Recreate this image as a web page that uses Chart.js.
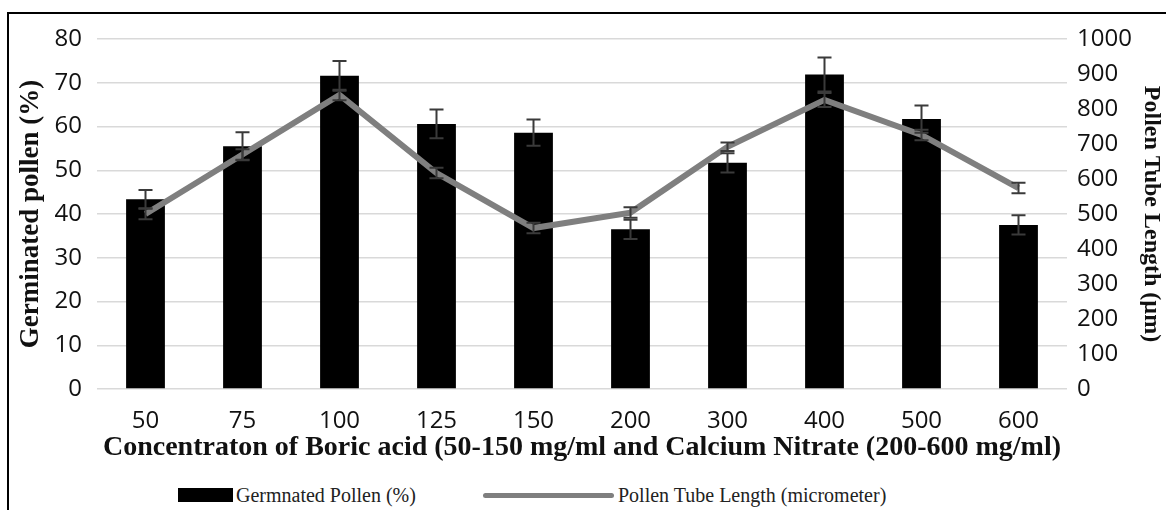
<!DOCTYPE html>
<html>
<head>
<meta charset="utf-8">
<script src="https://cdn.jsdelivr.net/npm/chart.js@4.4.1/dist/chart.umd.min.js"></script>
<style>
  html, body { margin: 0; padding: 0; background: #fff; }
  #wrap { position: relative; width: 1166px; height: 510px; overflow: hidden; }
  #frame { position: absolute; left: 7px; top: 12px; width: 1200px; height: 600px;
           border-left: 2px solid #000; border-top: 2px solid #000; }
  #chart { position: absolute; left: 0; top: 0; }
  .leg { position: absolute; top: 483px; height: 24px; display: flex; align-items: center;
         font-family: "Liberation Serif", serif; font-size: 20px; color: #222; white-space: nowrap; }
  .sw-bar { width: 55px; height: 14px; background: #000; margin-right: 3px; }
  .sw-line { width: 131px; height: 5px; background: #7f7f7f; border-radius: 3px; margin-right: 4px; }
</style>
</head>
<body>
<div id="wrap">
  <div id="frame"></div>
  <canvas id="chart" width="1166" height="470"></canvas>
  <div class="leg" style="left:178px"><span class="sw-bar"></span>Germnated Pollen (%)</div>
  <div class="leg" style="left:483px"><span class="sw-line"></span>Pollen Tube Length (micrometer)</div>
</div>
<script>
const concentrations = ["50", "75", "100", "125", "150", "200", "300", "400", "500", "600"];
const germinated = [43.4, 55.5, 71.6, 60.6, 58.6, 36.5, 51.7, 71.9, 61.7, 37.5];
const germinatedErr = [2.1, 3.2, 3.4, 3.3, 3.0, 2.2, 2.2, 3.9, 3.1, 2.2];
const tubeLength = [500, 670, 840, 617, 460, 504, 692, 826, 726, 574];
const tubeLengthErr = [15, 15, 15, 15, 15, 15, 12, 20, 15, 15];
const leftTicks = [0, 10, 20, 30, 40, 50, 60, 70, 80];
const rightTicks = [0, 100, 200, 300, 400, 500, 600, 700, 800, 900, 1000];

const tickFont = { family: "'Open Sans', sans-serif", size: 24 };
const titleFamily = "'Liberation Serif', serif";

// draws the error bars on top of each dataset using its own y scale
const errorBars = {
    id: "errorBars",
    afterDatasetsDraw(chart) {
        const ctx = chart.ctx;
        const sets = [
            { index: 0, errs: germinatedErr, color: "#3a3a3a" },
            { index: 1, errs: tubeLengthErr, color: "#3a3a3a" }
        ];
        sets.forEach(s => {
            const meta = chart.getDatasetMeta(s.index);
            const scale = chart.scales[meta.yAxisID];
            const values = chart.data.datasets[s.index].data;
            ctx.save();
            ctx.strokeStyle = s.color;
            ctx.lineWidth = 2;
            meta.data.forEach((el, i) => {
                const x = el.x;
                const yTop = scale.getPixelForValue(values[i] + s.errs[i]);
                const yBot = scale.getPixelForValue(values[i] - s.errs[i]);
                ctx.beginPath();
                ctx.moveTo(x, yTop); ctx.lineTo(x, yBot);
                ctx.moveTo(x - 7, yTop); ctx.lineTo(x + 7, yTop);
                ctx.moveTo(x - 7, yBot); ctx.lineTo(x + 7, yBot);
                ctx.stroke();
            });
            ctx.restore();
        });
    }
};

new Chart(document.getElementById("chart"), {
    data: {
        labels: concentrations,
        datasets: [
            {
                type: "bar",
                label: "Germnated Pollen (%)",
                data: germinated,
                backgroundColor: "#000",
                yAxisID: "y",
                categoryPercentage: 1,
                barPercentage: 0.4,
                order: 2
            },
            {
                type: "line",
                label: "Pollen Tube Length (micrometer)",
                data: tubeLength,
                borderColor: "#7f7f7f",
                borderWidth: 6,
                pointRadius: 0,
                tension: 0,
                yAxisID: "y1",
                order: 1
            }
        ]
    },
    options: {
        responsive: false,
        animation: false,
        layout: { padding: { left: 0, right: 0, top: 39, bottom: 0 } },
        plugins: { legend: { display: false }, tooltip: { enabled: false } },
        scales: {
            x: {
                grid: { display: false },
                border: { display: false },
                ticks: { font: tickFont, color: "#111", padding: 10, maxRotation: 0 },
                title: { display: true, text: "Concentraton of Boric acid (50-150 mg/ml and Calcium Nitrate (200-600 mg/ml)",
                         font: { family: titleFamily, size: 28, weight: "bold" }, color: "#111",
                         padding: { top: 0, bottom: 5 } },
                afterFit(scale) { scale.height = 81; }
            },
            y: {
                position: "left",
                min: 0, max: 80,
                afterBuildTicks(scale) { scale.ticks = leftTicks.map(v => ({ value: v })); },
                grid: { color: "#d9d9d9", lineWidth: 1.5, drawTicks: false },
                border: { display: false },
                ticks: { font: tickFont, color: "#111", padding: 15 },
                title: { display: true, text: "Germinated pollen (%)",
                         font: { family: titleFamily, size: 27, weight: "bold" }, color: "#111",
                         padding: { top: 15, bottom: 0 } },
                afterFit(scale) { scale.width = 97; }
            },
            y1: {
                position: "right",
                min: 0, max: 1000,
                afterBuildTicks(scale) { scale.ticks = rightTicks.map(v => ({ value: v })); },
                grid: { drawOnChartArea: false, drawTicks: false },
                border: { display: false },
                ticks: { font: tickFont, color: "#111", padding: 10, callback: v => String(v) },
                title: { display: true, text: "Pollen Tube Length (µm)",
                         font: { family: titleFamily, size: 24, weight: "bold" }, color: "#111",
                         padding: { top: 0, bottom: 0 } },
                afterFit(scale) { scale.width = 99; }
            }
        }
    },
    plugins: [errorBars]
});
</script>
</body>
</html>
